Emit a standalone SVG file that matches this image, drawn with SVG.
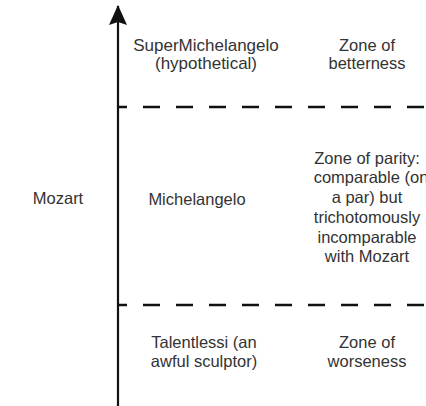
<svg xmlns="http://www.w3.org/2000/svg" width="426" height="406" viewBox="0 0 426 406">
<style>
text{font-family:"Liberation Sans",Arial,sans-serif;font-size:16.5px;fill:#333;text-anchor:middle}
.big{font-size:17px}
.dash{stroke:#111;stroke-width:2.5;stroke-dasharray:17 16;stroke-dashoffset:8;fill:none}
.axis{stroke:#111;stroke-width:2.2;fill:none}
</style>
<defs>
<marker id="ah" viewBox="0 0 20 18" refX="19" refY="9" markerWidth="20" markerHeight="18" markerUnits="userSpaceOnUse" orient="auto">
<path d="M20 9 L0 0 L3 9 L0 18 Z" fill="#111"/>
</marker>
</defs>
<g id="connectors">
<line class="axis" x1="118" y1="406" x2="118" y2="6" marker-end="url(#ah)"/>
<line class="dash" x1="118" y1="107" x2="426" y2="107"/>
<line class="dash" x1="118" y1="305" x2="426" y2="305"/>
</g>
<g id="supermichelangelo">
<text class="big" x="206" y="51">SuperMichelangelo</text>
<text class="big" x="206" y="69">(hypothetical)</text>
</g>
<g id="zone-betterness">
<text x="367" y="51">Zone of</text>
<text x="367" y="69">betterness</text>
</g>
<g id="mozart">
<text x="58" y="204">Mozart</text>
</g>
<g id="michelangelo">
<text x="197" y="205">Michelangelo</text>
</g>
<g id="zone-parity">
<text x="367" y="164">Zone of parity:</text>
<text x="371" y="183">comparable (on</text>
<text x="367" y="203">a par) but</text>
<text x="367" y="223">trichotomously</text>
<text x="367" y="243">incomparable</text>
<text x="367" y="262">with Mozart</text>
</g>
<g id="talentlessi">
<text x="204" y="348">Talentlessi (an</text>
<text x="204" y="367">awful sculptor)</text>
</g>
<g id="zone-worseness">
<text x="367" y="348">Zone of</text>
<text x="367" y="367">worseness</text>
</g>
</svg>
